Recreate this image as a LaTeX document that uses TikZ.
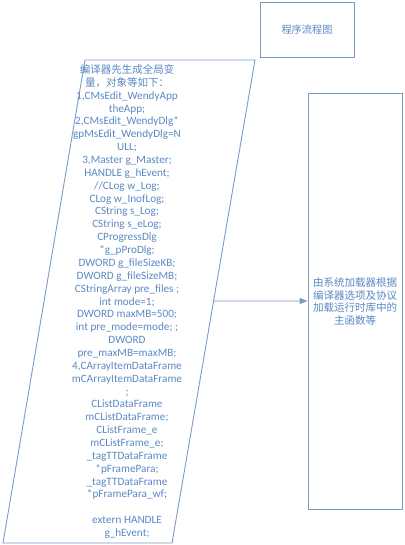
\documentclass[tikz,border=0pt]{standalone}
\usepackage{fontspec}
\setmainfont{Carlito}
\newfontfamily\cjk{Noto Sans CJK SC}
\usetikzlibrary{arrows.meta,calc}
\definecolor{linec}{RGB}{122,155,200}
\definecolor{textc}{RGB}{90,136,196}
\tikzset{
  boxstyle/.style={draw=linec, line width=0.9pt, fill=white, inner sep=0pt},
  txt/.style={text=textc, font=\fontsize{11.2}{12.86}\selectfont, align=center, inner sep=0pt},
  cjktxt/.style={text=textc, font=\fontsize{10.5}{12.5}\selectfont\cjk, align=center, inner sep=0pt},
  conn/.style={draw=linec, line width=0.9pt, -{Triangle[length=8pt,width=6pt]}}
}
\newcommand{\cj}[1]{{\fontsize{10.5}{12.86}\selectfont\cjk #1}}
\begin{document}
\begin{tikzpicture}[x=1pt,y=-1pt]
\useasboundingbox (0,0) rectangle (404,545);
% title box
\node[boxstyle, minimum width=94pt, minimum height=55pt] (title) at (307,29.5) {};
\node[cjktxt, font=\fontsize{10.2}{12}\selectfont\cjk] (titletext) at (title.center) {程序流程图};
% parallelogram
\coordinate (p1) at (85,60);
\coordinate (p2) at (255,60);
\coordinate (p3) at (172,543);
\coordinate (p4) at (3,543);
\draw[draw=linec, line width=0.9pt] (p1) -- (p2) -- (p3) -- (p4) -- cycle;
\coordinate (pe) at ($(p2)!0.4990!(p3)$);
\node[txt] (code) at (127,301.5) {\cj{编译器先生成全局变}\\
\cj{量，对象等如下：}\\
1,CMsEdit\_WendyApp\\
theApp;\\
2,CMsEdit\_WendyDlg*\\
gpMsEdit\_WendyDlg=N\\
ULL;\\
3,Master g\_Master;\\
HANDLE g\_hEvent;\\
//CLog w\_Log;\\
CLog w\_InofLog;\\
CString s\_Log;\\
CString s\_eLog;\\
CProgressDlg\\
*g\_pProDlg;\\
DWORD g\_fileSizeKB;\\
DWORD g\_fileSizeMB;\\
CStringArray pre\_files ;\\
int mode=1;\\
DWORD maxMB=500;\\
int pre\_mode=mode; ;\\
DWORD\\
pre\_maxMB=maxMB;\\
4,CArrayItemDataFrame\\
mCArrayItemDataFrame\\
;\\
CListDataFrame\\
mCListDataFrame;\\
CListFrame\_e\\
mCListFrame\_e;\\
\_tagTTDataFrame\\
*pFramePara;\\
\_tagTTDataFrame\\
*pFramePara\_wf;\\
\strut\\
extern HANDLE\\
g\_hEvent;};
% right box
\node[boxstyle, minimum width=94pt, minimum height=416pt] (main) at (355,301) {};
\node[cjktxt] (maintext) at (355,301.5) {由系统加载器根据\\编译器选项及协议\\加载运行时库中的\\主函数等};
\draw[conn] (pe) -- (main.west);
\end{tikzpicture}
\end{document}
